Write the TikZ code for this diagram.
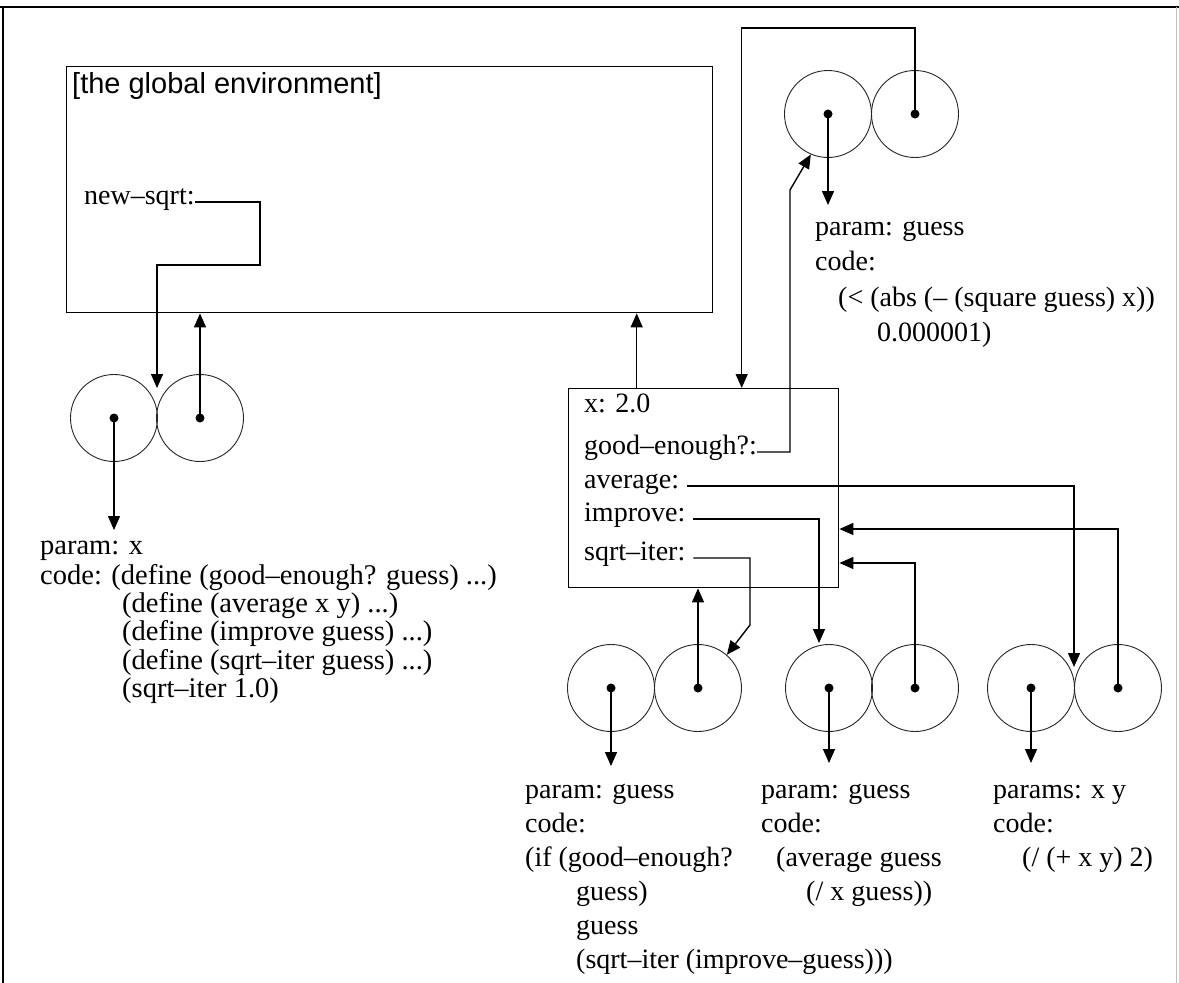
\documentclass[tikz,border=0pt]{standalone}
\usepackage{fontspec}
\setmainfont{Liberation Serif}
\newfontfamily\helv{Liberation Sans}
\usetikzlibrary{arrows.meta}
\begin{document}
\begin{tikzpicture}[x=1pt,y=-1pt,
  wire/.style={line width=1.4pt},
  arr/.style={wire,-{Triangle[length=14pt,width=12pt]}},
  envbox/.style={draw,line width=1.4pt,inner sep=0pt,anchor=north west},
  cell/.style={circle,draw=black!85,line width=0.9pt,minimum size=87pt,inner sep=0pt},
  dot/.style={circle,fill,inner sep=0pt,minimum size=9pt},
  lbl/.style={inner sep=0pt,anchor=west,font=\fontsize{28}{34}\selectfont,text height=0.7em,text depth=0.2em},
  code/.style={inner sep=0pt,anchor=north west,align=left},
]
\fill[white] (0,0) rectangle (1179,983);
\useasboundingbox (0,0) rectangle (1179,983);
% frame
\draw[line width=1.6pt] (0,7) -- (1179,7);
\draw[line width=1.6pt] (3,7) -- (3,983);
\draw[black!25,line width=1pt] (1176,7) -- (1176,983);

% global environment
\node[envbox,minimum width=646pt,minimum height=246pt] (G) at (66,66) {};
\node[anchor=west,inner sep=0pt,font=\helv\fontsize{29}{34}\selectfont] (gtitle) at (72,86) {[the global environment]};
\node[lbl] (ns) at (84,202) {new–sqrt:};

% pair P1 (new-sqrt procedure)
\node[cell] (P1l) at (114,418) {};
\node[cell] (P1r) at (200,418) {};
\node[dot] (P1ld) at (P1l) {};
\node[dot] (P1rd) at (P1r) {};
\coordinate (P1n) at (157,388);
\node[code,font=\fontsize{28.5}{28.2}\selectfont] (P1txt) at (40,535) {\strut param: x\\
code: (define (good–enough? guess) ...)\\
\hspace*{82pt}(define (average x y) ...)\\
\hspace*{82pt}(define (improve guess) ...)\\
\hspace*{82pt}(define (sqrt–iter guess) ...)\\
\hspace*{82pt}(sqrt–iter 1.0)};

% frame B
\node[envbox,minimum width=270pt,minimum height=199pt] (B) at (568,388) {};
\node[lbl] (xv) at (584,410) {x: 2.0};
\node[lbl] (ge) at (584,452) {good–enough?:};
\node[lbl] (av) at (584,486) {average:};
\node[lbl] (im) at (584,519) {improve:};
\node[lbl] (si) at (584,558) {sqrt–iter:};

% pair P0 (good-enough?)
\node[cell] (P0l) at (828,114) {};
\node[cell] (P0r) at (915,114) {};
\node[dot] (P0ld) at (P0l) {};
\node[dot] (P0rd) at (P0r) {};
\node[code,font=\fontsize{28}{35.5}\selectfont] (P0txt) at (815,210) {\strut param: guess\\
code:\\
\hspace*{23pt}(< (abs (– (square guess) x))\\
\hspace*{62pt}0.000001)};

% bottom pairs
\node[cell] (Q1l) at (611,688) {};
\node[cell] (Q1r) at (698,688) {};
\node[cell] (Q2l) at (829,688) {};
\node[cell] (Q2r) at (915,688) {};
\node[cell] (Q3l) at (1031,688) {};
\node[cell] (Q3r) at (1118,688) {};
\foreach \c in {Q1l,Q1r,Q2l,Q2r,Q3l,Q3r} {\node[dot] (\c d) at (\c) {};}
\coordinate (Q2n) at (819,643);
\coordinate (Q3n) at (1074,667);

\node[code,font=\fontsize{28}{34}\selectfont] (Q1txt) at (525,774.6) {\strut param: guess\\
code:\\
(if (good–enough?\\
\hspace*{51pt}guess)\\
\hspace*{51pt}guess\\
\hspace*{51pt}(sqrt–iter (improve–guess)))};
\node[code,font=\fontsize{28}{34}\selectfont] (Q2txt) at (761,774.6) {\strut param: guess\\
code:\\
\hspace*{15pt}(average guess\\
\hspace*{45pt}(/ x guess))};
\node[code,font=\fontsize{28}{34}\selectfont] (Q3txt) at (993,774.6) {\strut params: x y\\
code:\\
\hspace*{29pt}(/ (+ x y) 2)};

% connectors
\draw[arr] (ns.east) -- (260,202) -- (260,265) -- (157,265) -- (P1n);
\draw[arr] (P1r.center) -- (P1r.center |- G.south);
\draw[arr] (P1l.center) -- ++(0,112);
\draw[arr] ([xshift=-67pt]B.north) -- ([xshift=-67pt]B.north |- G.south);
\draw[arr] (P0r.center) -- ++(0,-86) -| ([xshift=38pt]B.north);
\draw[arr] (P0l.center) -- ++(0,91);
\draw[arr] (ge.east) -| (790,190) -- (P0l.247);
\draw[arr] ([xshift=8pt]av.east) -| (Q3n);
\draw[arr] ([xshift=8pt]im.east) -| (Q2n);
\draw[arr] ([xshift=8pt]si.east) -| (750,625) -- (Q1r.49);
\draw[arr] (Q1r.center) -- (Q1r.center |- B.south);
\draw[arr] (Q2r.center) |- (B.east |- 0,563);
\draw[arr] (Q3r.center) |- (B.east |- 0,529);
\draw[arr] (Q1l.center) -- ++(0,78);
\draw[arr] (Q2l.center) -- ++(0,75);
\draw[arr] (Q3l.center) -- ++(0,75);
\end{tikzpicture}
\end{document}
